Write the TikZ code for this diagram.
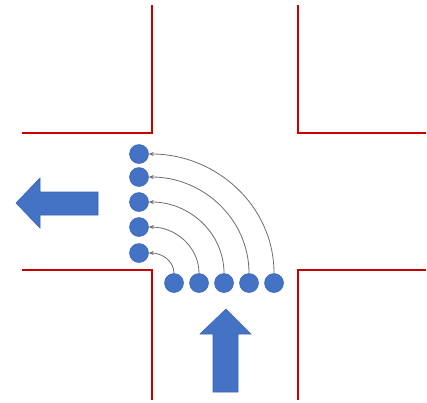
\documentclass[tikz,border=0pt]{standalone}
\usetikzlibrary{arrows.meta}
\definecolor{offblue}{HTML}{4472C4}
\definecolor{offblueline}{HTML}{3A64B0}
\definecolor{roadred}{HTML}{C80000}
\begin{document}
\begin{tikzpicture}[x=1pt,y=-1pt,
  road/.style={draw=roadred,line width=2.6pt},
  car/.style={circle,fill=offblue,draw=offblueline,line width=0.5pt,minimum size=19pt,inner sep=0pt},
  path/.style={draw=gray!85!black,line width=0.8pt,-{Stealth[length=5pt,width=4pt]}},
  bigarrow/.style={fill=offblue,draw=offblueline,line width=0.6pt}]
\useasboundingbox (0,0) rectangle (427,402);
% roads
\draw[road] (152,5) -- (152,133) -- (22,133);
\draw[road] (298,5) -- (298,133) -- (426,133);
\draw[road] (22,270) -- (152,270) -- (152,400);
\draw[road] (426,270) -- (298,270) -- (298,400);
% cars
\node[car] (l1) at (139,154) {};
\node[car] (l2) at (139,177) {};
\node[car] (l3) at (139,202) {};
\node[car] (l4) at (139,227) {};
\node[car] (l5) at (139,253) {};
\node[car] (b1) at (174,283) {};
\node[car] (b2) at (199,283) {};
\node[car] (b3) at (224,283) {};
\node[car] (b4) at (249,283) {};
\node[car] (b5) at (274,283) {};
% turning paths
\draw[path] (b1.north) to[out=90,in=0] (l5.east);
\draw[path] (b2.north) to[out=90,in=0] (l4.east);
\draw[path] (b3.north) to[out=90,in=0] (l3.east);
\draw[path] (b4.north) to[out=90,in=0] (l2.east);
\draw[path] (b5.north) to[out=90,in=0] (l1.east);
% big arrows
\draw[bigarrow] (16,203) -- (40,178) -- (40,192) -- (98,192) -- (98,215) -- (40,215) -- (40,228) -- cycle;
\draw[bigarrow] (226,309) -- (251,334) -- (238,334) -- (238,392) -- (213,392) -- (213,334) -- (200,334) -- cycle;
\end{tikzpicture}
\end{document}
